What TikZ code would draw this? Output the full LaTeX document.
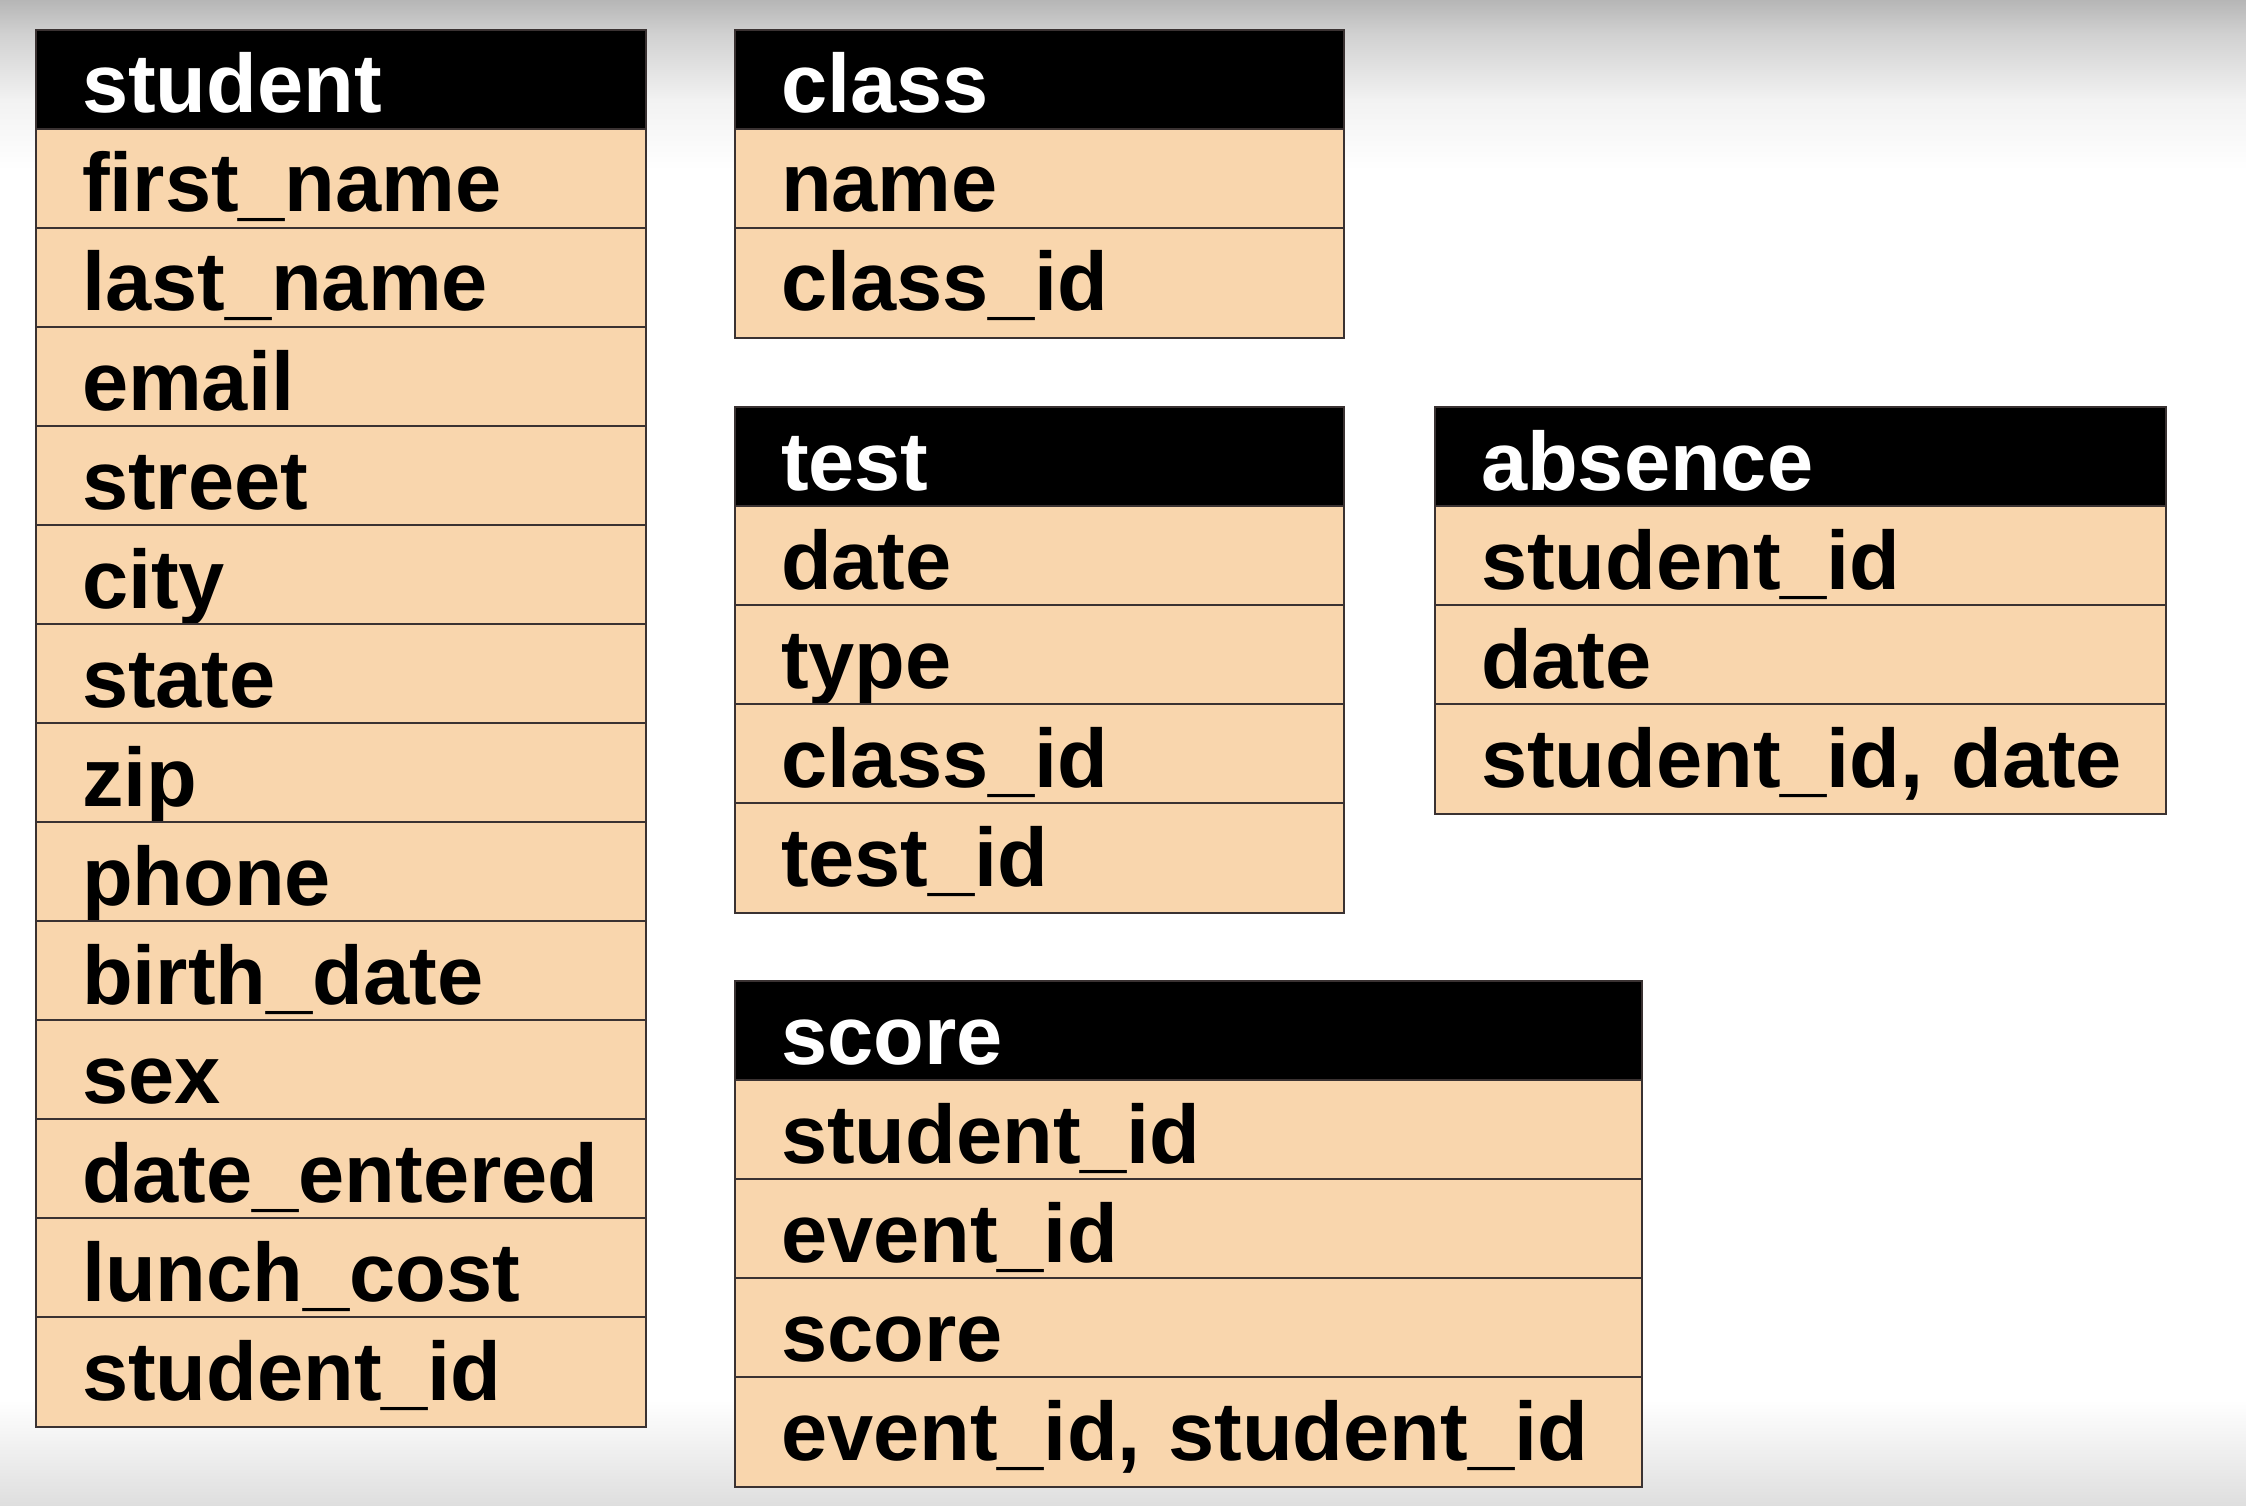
\documentclass[tikz,border=0pt]{standalone}
\usepackage{fontspec}
\setmainfont{Liberation Sans}
\definecolor{peach}{HTML}{F9D6AD}
\definecolor{linecol}{HTML}{3A3232}
\definecolor{gA}{HTML}{B6B6B6}
\definecolor{gB}{HTML}{D0D0D0}
\definecolor{gC}{HTML}{F2F2F2}
\definecolor{gD}{HTML}{DEDEDE}
\tikzset{
  cell/.style={draw=linecol, line width=2pt, fill=peach, anchor=north west,
    outer sep=0pt, inner xsep=46pt, inner ysep=0pt, text height=83pt, text depth=16pt,
    align=left, font=\bfseries\fontsize{83}{99}\selectfont},
  hdr/.style={cell, fill=black, text=white},
  lastcell/.style={cell, text depth=27pt}
}
% name, x, y, text width, title, middle rows, number of middle rows, last row
\newcommand{\mktable}[8]{%
  \node[hdr, text width=#4] (#1-0) at (#2,#3) {\mbox{#5}};
  \foreach \t [count=\i, remember=\i as \j (initially 0)] in {#6} {
    \node[cell, text width=#4] (#1-\i) at (#1-\j.south west) {\mbox{\t}};
  }
  \node[lastcell, text width=#4] (#1-last) at (#1-#7.south west) {\mbox{#8}};
}
\begin{document}
\begin{tikzpicture}[x=1pt, y=-1pt]
\useasboundingbox (0,0) rectangle (2246,1506);
\fill[white] (0,0) rectangle (2246,1506);
\shade[top color=gA, bottom color=gB] (0,0) rectangle (2246,33);
\shade[top color=gB, bottom color=gC] (0,33) rectangle (2246,100);
\shade[top color=gC, bottom color=white] (0,100) rectangle (2246,170);
\shade[top color=white, bottom color=gD] (0,1400) rectangle (2246,1506);

\mktable{student}{36}{30}{518pt}{student}
  {first\_name, last\_name, email, street, city, state, zip, phone, birth\_date, sex, date\_entered, lunch\_cost}{12}{student\_id}
\mktable{class}{735}{30}{517pt}{class}{name}{1}{class\_id}
\mktable{test}{735}{407}{517pt}{test}{date, type, class\_id}{3}{test\_id}
\mktable{absence}{1435}{407}{639pt}{absence}{student\_id, date}{2}{student\_id, date}
\mktable{score}{735}{981}{815pt}{score}{student\_id, event\_id, score}{3}{event\_id, student\_id}
\end{tikzpicture}
\end{document}
